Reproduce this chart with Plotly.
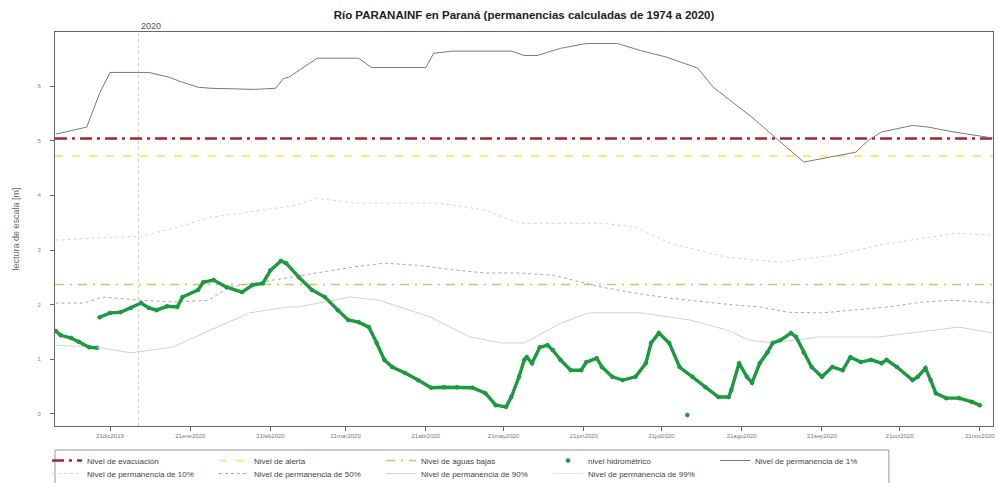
import plotly.graph_objects as go

# ---------------- data ----------------
title_text = "<b>Río PARANAINF en Paraná (permanencias calculadas de 1974 a 2020)</b>"

tick_dates = ["2019-12-21", "2020-01-21", "2020-02-21", "2020-03-21", "2020-04-21", "2020-05-21",
              "2020-06-21", "2020-07-21", "2020-08-21", "2020-09-21", "2020-10-21", "2020-11-21"]
tick_labels = ["21dic2019", "21ene2020", "21feb2020", "21mar2020", "21abr2020", "21may2020",
               "21jun2020", "21jul2020", "21ago2020", "21sep2020", "21oct2020", "21nov2020"]
y_ticks = [0, 1, 2, 3, 4, 5, 6]

nivel_evacuacion = 5.04
nivel_alerta = 4.72
nivel_aguas_bajas = 2.37

green_dates = ["2019-11-30", "2019-12-02", "2019-12-06", "2019-12-09", "2019-12-13", "2019-12-16",
               "2019-12-16 12:00",
               "2019-12-17", "2019-12-21", "2019-12-25", "2019-12-29", "2020-01-02", "2020-01-05",
               "2020-01-08", "2020-01-12", "2020-01-16", "2020-01-18", "2020-01-24", "2020-01-26",
               "2020-01-30", "2020-02-04", "2020-02-10", "2020-02-14", "2020-02-18", "2020-02-21",
               "2020-02-25", "2020-02-27", "2020-03-03", "2020-03-08", "2020-03-13", "2020-03-18",
               "2020-03-22", "2020-03-26", "2020-03-30", "2020-04-02", "2020-04-05", "2020-04-08",
               "2020-04-13", "2020-04-18", "2020-04-23", "2020-04-28", "2020-05-03", "2020-05-09",
               "2020-05-14", "2020-05-18", "2020-05-22", "2020-05-24", "2020-05-27", "2020-05-29",
               "2020-05-30", "2020-06-01", "2020-06-04", "2020-06-07", "2020-06-09", "2020-06-12",
               "2020-06-16", "2020-06-20", "2020-06-22", "2020-06-26", "2020-06-28", "2020-07-02",
               "2020-07-06", "2020-07-11", "2020-07-15", "2020-07-17", "2020-07-20", "2020-07-24",
               "2020-07-28", "2020-08-02", "2020-08-07", "2020-08-12", "2020-08-16", "2020-08-17",
               "2020-08-20", "2020-08-23", "2020-08-25", "2020-08-28", "2020-08-31", "2020-09-02",
               "2020-09-05", "2020-09-09", "2020-09-11", "2020-09-14", "2020-09-17", "2020-09-21",
               "2020-09-25", "2020-09-29", "2020-10-02", "2020-10-06", "2020-10-10", "2020-10-14",
               "2020-10-16", "2020-10-20", "2020-10-26", "2020-10-28", "2020-10-31", "2020-11-02",
               "2020-11-04", "2020-11-08", "2020-11-13", "2020-11-18", "2020-11-21"]
green_vals = [1.52, 1.44, 1.39, 1.32, 1.22, 1.21,
              None,
              1.77, 1.85, 1.86, 1.94, 2.03, 1.94,
              1.90, 1.97, 1.96, 2.14, 2.27, 2.41,
              2.45, 2.32, 2.23, 2.36, 2.39, 2.63,
              2.80, 2.76, 2.50, 2.27, 2.14, 1.90,
              1.72, 1.68, 1.59, 1.30, 0.99, 0.86,
              0.75, 0.62, 0.48, 0.49, 0.49, 0.48,
              0.38, 0.16, 0.13, 0.31, 0.68, 0.99,
              1.04, 0.93, 1.22, 1.26, 1.17, 0.99,
              0.80, 0.80, 0.95, 1.02, 0.86, 0.68,
              0.62, 0.68, 0.93, 1.30, 1.48, 1.30,
              0.86, 0.68, 0.49, 0.31, 0.31, 0.44,
              0.93, 0.68, 0.57, 0.93, 1.13, 1.30,
              1.35, 1.48, 1.41, 1.12, 0.86, 0.68,
              0.86, 0.80, 1.04, 0.95, 0.99, 0.93,
              0.99, 0.86, 0.62, 0.68, 0.84, 0.62,
              0.38, 0.29, 0.29, 0.22, 0.16]
iso_dates = ["2020-07-31"]
iso_vals = [-0.02]

p1_dates = ["2019-11-30", "2019-12-12", "2019-12-17", "2019-12-21", "2020-01-05", "2020-01-13",
            "2020-01-18", "2020-01-24", "2020-01-29", "2020-02-15", "2020-02-23", "2020-02-26",
            "2020-02-28", "2020-03-10", "2020-03-26", "2020-03-31", "2020-04-21", "2020-04-24",
            "2020-05-01", "2020-05-24", "2020-05-29", "2020-06-03", "2020-06-12", "2020-06-22",
            "2020-07-04", "2020-07-13", "2020-07-23", "2020-08-04", "2020-08-10", "2020-08-18",
            "2020-08-25", "2020-09-03", "2020-09-14", "2020-10-04", "2020-10-09", "2020-10-14",
            "2020-10-26", "2020-11-01", "2020-11-11", "2020-11-26"]
p1_vals = [5.12, 5.25, 5.87, 6.25, 6.25, 6.16,
           6.07, 5.98, 5.96, 5.94, 5.96, 6.14,
           6.16, 6.51, 6.51, 6.34, 6.34, 6.60,
           6.64, 6.64, 6.56, 6.56, 6.69, 6.78,
           6.78, 6.65, 6.53, 6.33, 5.98, 5.69,
           5.43, 5.06, 4.61, 4.79, 5.01, 5.16,
           5.28, 5.25, 5.16, 5.05]

p10_dates = ["2019-11-30", "2019-12-15", "2020-01-02", "2020-01-16", "2020-01-29", "2020-02-18",
             "2020-03-02", "2020-03-10", "2020-03-24", "2020-04-26", "2020-05-14", "2020-05-27",
             "2020-06-28", "2020-07-11", "2020-07-24", "2020-08-15", "2020-09-05", "2020-09-27",
             "2020-10-13", "2020-11-12", "2020-11-26"]
p10_vals = [3.18, 3.22, 3.25, 3.42, 3.60, 3.73,
            3.82, 3.95, 3.86, 3.86, 3.73, 3.49,
            3.49, 3.42, 3.13, 2.87, 2.78, 2.91,
            3.09, 3.31, 3.27]

p50_dates = ["2019-11-30", "2019-12-11", "2019-12-18", "2020-01-02", "2020-01-15", "2020-01-28",
             "2020-02-05", "2020-02-17", "2020-02-28", "2020-03-10", "2020-03-24", "2020-04-05",
             "2020-04-18", "2020-05-03", "2020-05-14", "2020-05-27", "2020-06-09", "2020-06-28",
             "2020-07-11", "2020-07-24", "2020-08-06", "2020-08-19", "2020-08-28", "2020-09-08",
             "2020-09-21", "2020-10-04", "2020-10-17", "2020-10-30", "2020-11-11", "2020-11-26"]
p50_vals = [2.03, 2.03, 2.14, 2.08, 2.05, 2.08,
            2.32, 2.41, 2.49, 2.58, 2.69, 2.76,
            2.72, 2.63, 2.58, 2.58, 2.54, 2.32,
            2.21, 2.12, 2.05, 1.99, 1.96, 1.86,
            1.85, 1.90, 1.96, 2.05, 2.08, 2.03]

p90_dates = ["2019-11-30", "2019-12-16", "2019-12-29", "2020-01-14", "2020-01-29", "2020-02-13",
             "2020-02-28", "2020-03-03", "2020-03-23", "2020-04-03", "2020-04-23", "2020-05-08",
             "2020-05-20", "2020-05-29", "2020-06-12", "2020-06-23", "2020-07-13", "2020-08-01",
             "2020-08-15", "2020-08-24", "2020-09-02", "2020-09-20", "2020-10-13", "2020-11-05",
             "2020-11-13", "2020-11-26"]
p90_vals = [1.26, 1.22, 1.12, 1.22, 1.54, 1.85,
            1.96, 1.96, 2.14, 2.08, 1.77, 1.41,
            1.30, 1.30, 1.66, 1.85, 1.85, 1.72,
            1.54, 1.35, 1.30, 1.41, 1.41, 1.54,
            1.59, 1.48]

# 99% level not visible inside the plotted range
p99_dates = ["2019-11-30"]
p99_vals = [None]

# ---------------- figure ----------------
x_start, x_end = "2019-11-29 18:00", "2020-11-26 02:00"

fig = go.Figure()

def hline(name, val, color, dash, width):
    fig.add_trace(go.Scatter(x=[x_start, x_end], y=[val, val], mode="lines", name=name,
                             legend="legend",
                             line=dict(color=color, dash=dash, width=width), hoverinfo="skip"))

hline("Nivel de evacuación", nivel_evacuacion, "#a2292b", "12px,5px,3px,5px", 2.6)
hline("Nivel de alerta", nivel_alerta, "#eeee88", "8px,9px", 2.2)
hline("Nivel de aguas bajas", nivel_aguas_bajas, "#d0c566", "9px,6px,2px,6px", 1.6)

fig.add_trace(go.Scatter(x=green_dates + iso_dates, y=green_vals + iso_vals, mode="markers",
                         name="nivel hidrométrico", legend="legend",
                         marker=dict(color="#1b9a3f", size=4, line=dict(color="#0f7a2e", width=0.5))))

fig.add_trace(go.Scatter(x=p1_dates, y=p1_vals, mode="lines", name="Nivel de permanencia de 1%",
                         legend="legend", line=dict(color="#7a7a7a", width=1)))
fig.add_trace(go.Scatter(x=p10_dates, y=p10_vals, mode="lines", name="Nivel de permanencia de 10%",
                         legend="legend2", line=dict(color="#d6d6d6", width=1, dash="dot")))
fig.add_trace(go.Scatter(x=p50_dates, y=p50_vals, mode="lines", name="Nivel de permanencia de 50%",
                         legend="legend2", line=dict(color="#a8a8a8", width=1, dash="dot")))
fig.add_trace(go.Scatter(x=p90_dates, y=p90_vals, mode="lines", name="Nivel de permanencia de 90%",
                         legend="legend2", line=dict(color="#d2d2d2", width=1)))
fig.add_trace(go.Scatter(x=p99_dates, y=p99_vals, mode="lines", name="Nivel de permanencia de 99%",
                         legend="legend2", line=dict(color="#e6e6e6", width=1)))

fig.add_trace(go.Scatter(x=green_dates, y=green_vals, mode="lines", showlegend=False,
                         line=dict(color="#1b9a3f", width=3.4), connectgaps=False, hoverinfo="skip"))

fig.add_shape(type="line", xref="x", yref="paper", x0="2020-01-01", x1="2020-01-01", y0=0, y1=1,
              line=dict(color="#cfcfcf", width=1, dash="dot"), layer="below")
fig.add_annotation(x="2020-01-01", y=1, xref="x", yref="paper", text="2020", showarrow=False,
                   xanchor="left", yanchor="bottom", xshift=1, yshift=-1,
                   font=dict(size=9, color="#555"))
# legend frame
fig.add_shape(type="rect", xref="paper", yref="paper", x0=0.0, x1=0.889, y0=-0.061, y1=-0.16,
              line=dict(color="#999", width=1), fillcolor="rgba(0,0,0,0)")

legend_common = dict(orientation="h", xanchor="left", xref="paper", yref="paper",
                     yanchor="top", entrywidth=122, itemwidth=30, borderwidth=0,
                     bgcolor="rgba(0,0,0,0)", font=dict(size=8, color="#444"))

fig.update_layout(
    width=999, height=483,
    margin=dict(l=55, r=6, t=32, b=57, autoexpand=False),
    paper_bgcolor="white", plot_bgcolor="white",
    font=dict(family="Liberation Sans, Arial, sans-serif", color="#555"),
    title=dict(text=title_text, x=0.5, xref="paper", xanchor="center", y=0.969, yanchor="middle",
               font=dict(size=11.5, color="#222")),
    showlegend=True,
    legend=dict(legend_common, x=-0.0085, y=-0.0508),
    legend2=dict(legend_common, x=-0.0085, y=-0.0838),
    xaxis=dict(type="date", range=[x_start, x_end], tickvals=tick_dates, ticktext=tick_labels,
               showgrid=False, zeroline=False, showline=True, mirror=True, linecolor="#666",
               linewidth=1, ticks="outside", ticklen=4, tickcolor="#666", automargin=False,
               tickfont=dict(size=6, color="#777")),
    yaxis=dict(range=[-0.22, 6.99], tickvals=y_ticks, showgrid=False, zeroline=False,
               showline=True, mirror=True, linecolor="#666", linewidth=1, ticks="outside",
               ticklen=4, tickcolor="#666", tickfont=dict(size=6, color="#888"), automargin=False,
               ticklabelstandoff=8,
               title=dict(text="lectura de escala [m]", font=dict(size=9, color="#666"), standoff=16)),
)

fig.write_html("out.html", post_script="document.body.style.margin='0';",
               config={"displayModeBar": False})
